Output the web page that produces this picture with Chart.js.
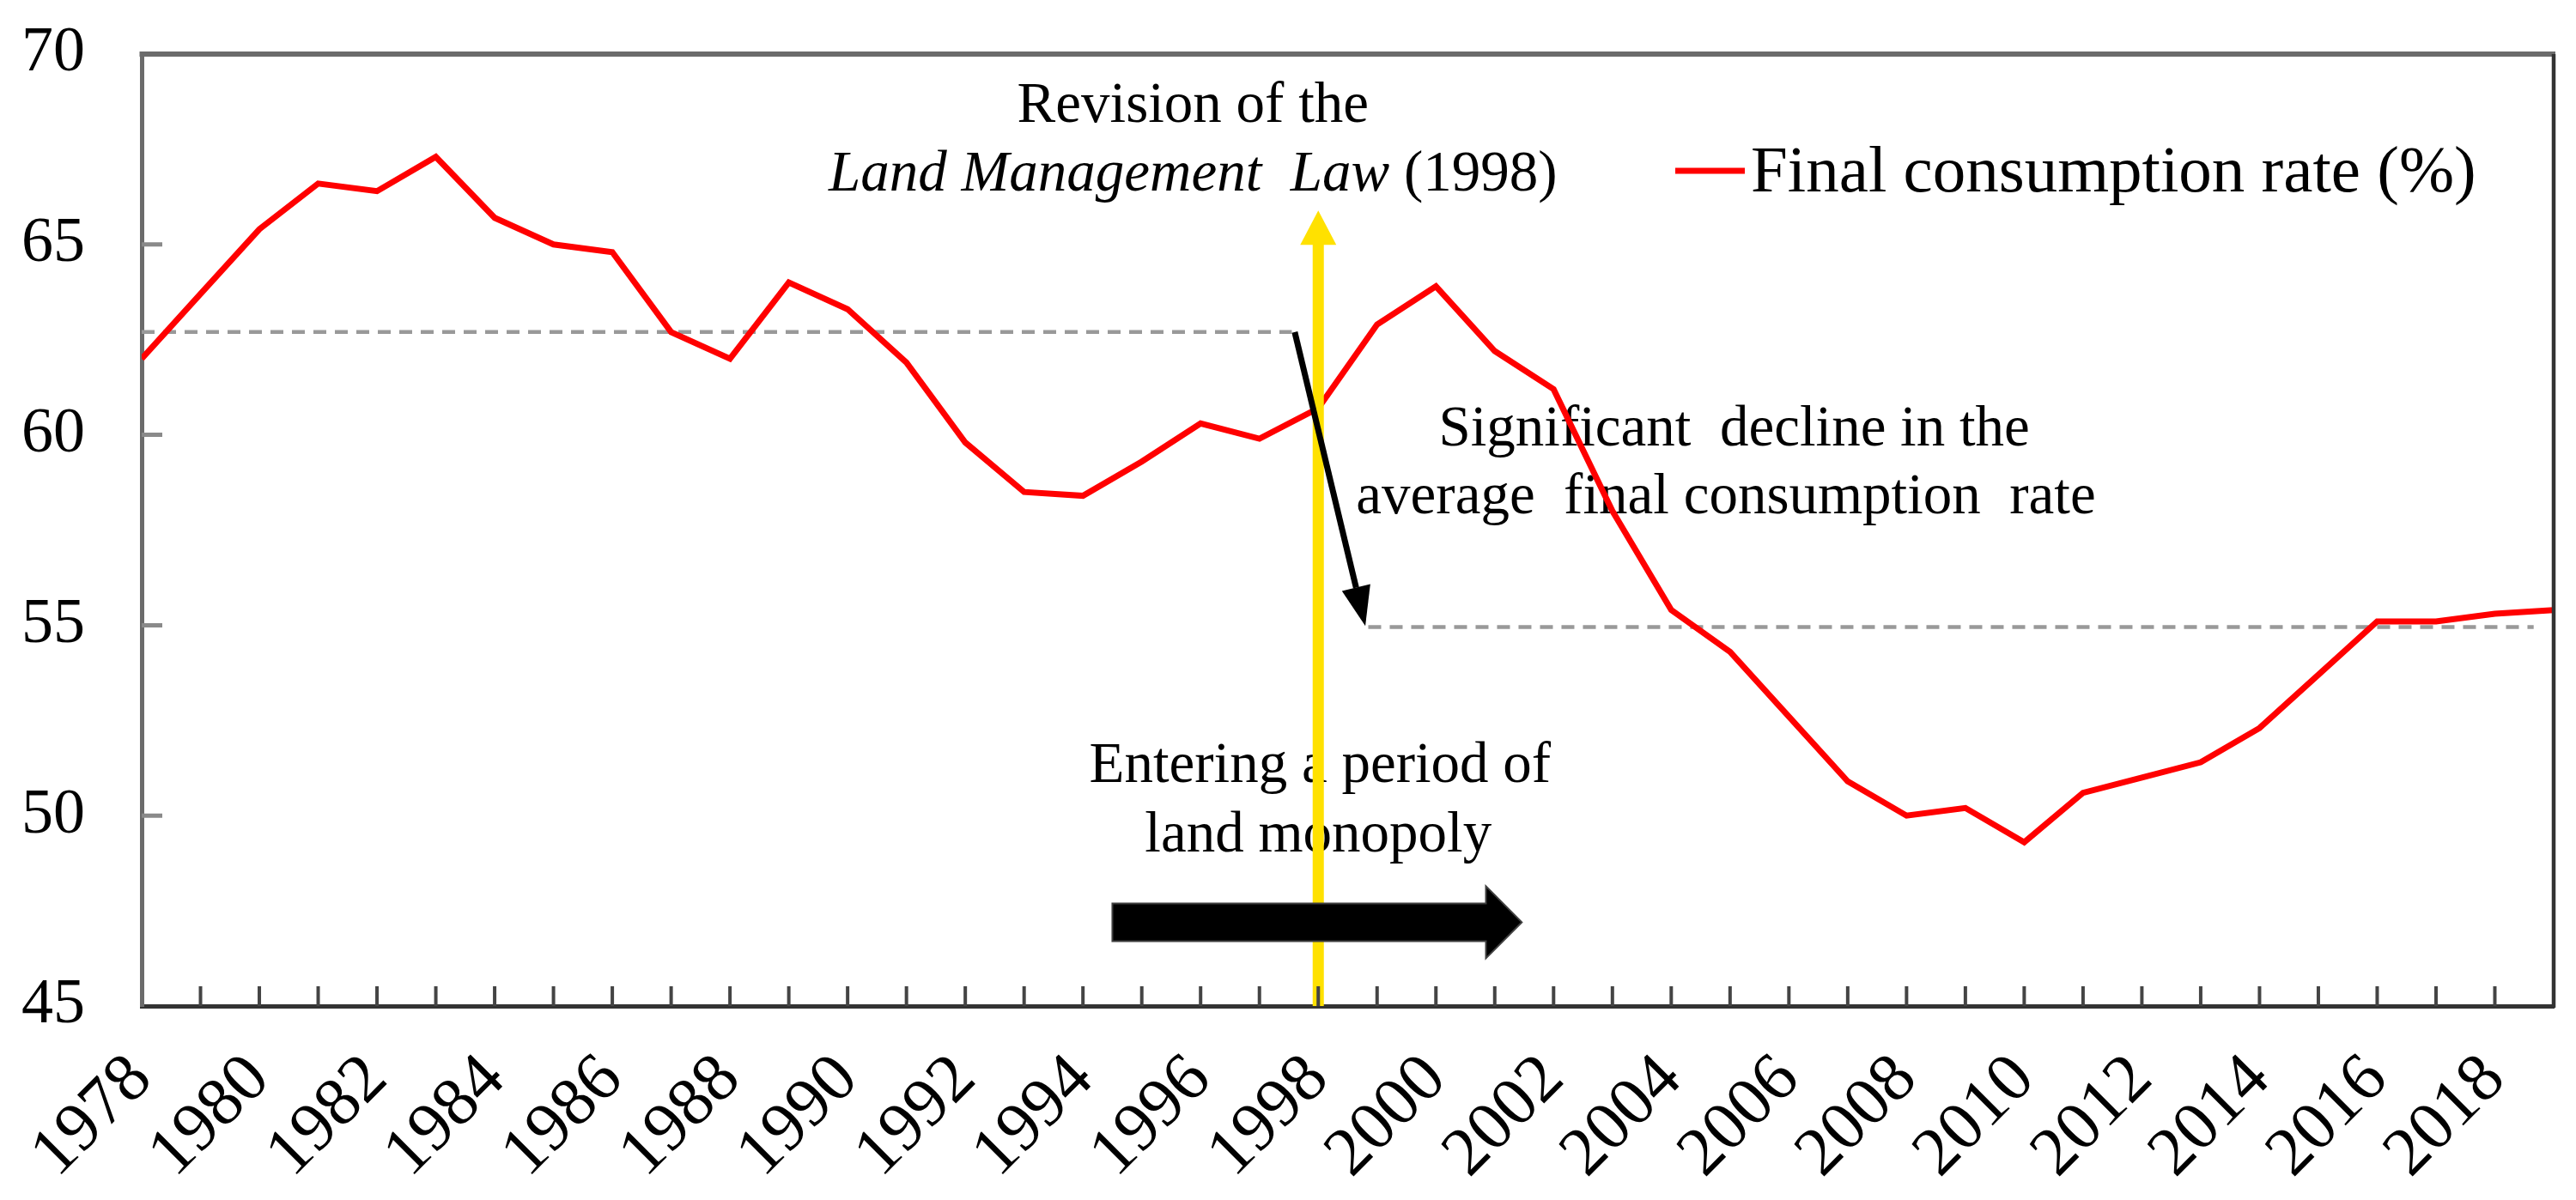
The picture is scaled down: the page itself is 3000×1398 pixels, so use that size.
<!DOCTYPE html>
<html>
<head>
<meta charset="utf-8">
<script src="https://cdn.jsdelivr.net/npm/chart.js@4"></script>
<style>
html,body{margin:0;padding:0;background:#fff;}
canvas{display:block;}
</style>
</head>
<body>
<canvas id="c" width="3000" height="1398" style="width:3000px;height:1398px"></canvas>
<script>
const years = [1978,1979,1980,1981,1982,1983,1984,1985,1986,1987,1988,1989,1990,1991,1992,1993,1994,1995,1996,1997,1998,1999,2000,2001,2002,2003,2004,2005,2006,2007,2008,2009,2010,2011,2012,2013,2014,2015,2016,2017,2018,2019];
const consumptionRate = [62.0,63.7,65.4,66.6,66.4,67.3,65.7,65.0,64.8,62.7,62.0,64.0,63.3,61.9,59.8,58.5,58.4,59.3,60.3,59.9,60.7,62.9,63.9,62.2,61.2,58.0,55.4,54.3,52.6,50.9,50.0,50.2,49.3,50.6,51.0,51.4,52.3,53.7,55.1,55.1,55.3,55.4];
const yTicks = [45,50,55,60,65,70];
const avgBefore = 62.7;   // average before 1998
const avgAfter = 54.95;   // average after 1998
const seriesLabel = 'Final consumption rate (%)';

const FONT = "'Liberation Serif','Times New Roman',serif";

const overlay = {
  id: 'overlay',
  beforeDatasetsDraw(chart) {
    const {ctx, scales:{x, y}} = chart;
    ctx.save();
    // dashed average lines
    ctx.strokeStyle = '#999999';
    ctx.lineWidth = 4.5;
    ctx.setLineDash([15, 10]);
    ctx.beginPath();
    ctx.moveTo(x.getPixelForValue(1978), y.getPixelForValue(avgBefore));
    ctx.lineTo(x.getPixelForValue(1997.55), y.getPixelForValue(avgBefore));
    ctx.moveTo(x.getPixelForValue(1998.85), y.getPixelForValue(avgAfter));
    ctx.lineTo(x.getPixelForValue(2018.66), y.getPixelForValue(avgAfter));
    ctx.stroke();
    ctx.setLineDash([]);

    // texts
    ctx.fillStyle = '#000';
    ctx.textBaseline = 'alphabetic';
    ctx.textAlign = 'center';
    const f = 67;
    ctx.font = f + 'px ' + FONT;
    ctx.fillText('Revision of the', x.getPixelForValue(1995.87), y.getPixelForValue(68.23));
    // mixed italic line
    const cx = x.getPixelForValue(1995.87), by = y.getPixelForValue(66.41);
    ctx.font = 'italic ' + f + 'px ' + FONT;
    const t1 = 'Land Management  Law';
    const w1 = ctx.measureText(t1).width;
    ctx.font = f + 'px ' + FONT;
    const t2 = ' (1998)';
    const w2 = ctx.measureText(t2).width;
    const sx = cx - (w1 + w2) / 2;
    ctx.textAlign = 'left';
    ctx.font = 'italic ' + f + 'px ' + FONT;
    ctx.fillText(t1, sx, by);
    ctx.font = f + 'px ' + FONT;
    ctx.fillText(t2, sx + w1, by);

    ctx.textAlign = 'center';
    ctx.fillText('Significant  decline in the', x.getPixelForValue(2005.07), y.getPixelForValue(59.73));
    ctx.fillText('average  final consumption  rate', x.getPixelForValue(2004.93), y.getPixelForValue(57.93));
    ctx.fillText('Entering a period of', x.getPixelForValue(1998.03), y.getPixelForValue(50.88));
    ctx.fillText('land monopoly', x.getPixelForValue(1998.0), y.getPixelForValue(49.06));

    // legend
    const lx = chart.chartArea.right - 1023, ly = chart.chartArea.top + 136;
    ctx.strokeStyle = '#ff0000';
    ctx.lineWidth = 7;
    ctx.beginPath();
    ctx.moveTo(lx, ly);
    ctx.lineTo(lx + 81, ly);
    ctx.stroke();
    ctx.font = '77px ' + FONT;
    ctx.textAlign = 'left';
    ctx.fillText(seriesLabel, lx + 88, ly + 24);
    ctx.restore();
  },
  afterDatasetsDraw(chart) {
    const {ctx, chartArea:{left, right, top, bottom}, scales:{x, y}} = chart;
    ctx.save();
    // yellow arrow
    const yx = x.getPixelForValue(1998);
    const tipY = y.getPixelForValue(65.89);
    ctx.strokeStyle = '#FFE100';
    ctx.fillStyle = '#FFE100';
    ctx.lineWidth = 13;
    ctx.beginPath();
    ctx.moveTo(yx, bottom);
    ctx.lineTo(yx, tipY + 36);
    ctx.stroke();
    ctx.beginPath();
    ctx.moveTo(yx, tipY);
    ctx.lineTo(yx - 21, tipY + 40);
    ctx.lineTo(yx + 21, tipY + 40);
    ctx.closePath();
    ctx.fill();

    // black slanted arrow
    const ax0 = x.getPixelForValue(1997.6), ay0 = y.getPixelForValue(avgBefore);
    const ax1 = x.getPixelForValue(1998.8), ay1 = y.getPixelForValue(54.98);
    const ang = Math.atan2(ay1 - ay0, ax1 - ax0);
    const hl = 46, hw = 17;
    const bx = ax1 - hl * Math.cos(ang), byy = ay1 - hl * Math.sin(ang);
    ctx.strokeStyle = '#000';
    ctx.fillStyle = '#000';
    ctx.lineWidth = 7;
    ctx.beginPath();
    ctx.moveTo(ax0, ay0);
    ctx.lineTo(bx, byy);
    ctx.stroke();
    ctx.beginPath();
    ctx.moveTo(ax1, ay1);
    ctx.lineTo(bx + hw * Math.sin(ang), byy - hw * Math.cos(ang));
    ctx.lineTo(bx - hw * Math.sin(ang), byy + hw * Math.cos(ang));
    ctx.closePath();
    ctx.fill();

    // thick block arrow
    const bx0 = x.getPixelForValue(1994.5), bhx = x.getPixelForValue(2000.85), btx = x.getPixelForValue(2001.46);
    const bcy = y.getPixelForValue(47.2);
    ctx.beginPath();
    ctx.moveTo(bx0, bcy - 22);
    ctx.lineTo(bhx, bcy - 22);
    ctx.lineTo(bhx, bcy - 42);
    ctx.lineTo(btx, bcy);
    ctx.lineTo(bhx, bcy + 42);
    ctx.lineTo(bhx, bcy + 22);
    ctx.lineTo(bx0, bcy + 22);
    ctx.closePath();
    ctx.fillStyle = '#000';
    ctx.fill();
    ctx.strokeStyle = '#404040';
    ctx.lineWidth = 2;
    ctx.stroke();
    ctx.restore();
  },
  afterDraw(chart) {
    const {ctx, chartArea:{left, right, top, bottom}, scales:{x, y}} = chart;
    ctx.save();
    // top border
    ctx.strokeStyle = '#6b6b6b';
    ctx.lineWidth = 6;
    ctx.beginPath();
    ctx.moveTo(left - 2.5, top);
    ctx.lineTo(right + 2, top);
    ctx.stroke();
    // right border
    ctx.strokeStyle = '#333';
    ctx.lineWidth = 4.5;
    ctx.beginPath();
    ctx.moveTo(right, top);
    ctx.lineTo(right, bottom + 2);
    ctx.stroke();
    // inward x tick marks
    ctx.strokeStyle = '#444';
    ctx.lineWidth = 4;
    ctx.beginPath();
    years.slice(1, -1).forEach(yr => {
      const px = x.getPixelForValue(yr);
      ctx.moveTo(px, bottom);
      ctx.lineTo(px, bottom - 23);
    });
    ctx.stroke();
    // inward y tick marks
    ctx.strokeStyle = '#8a8a8a';
    ctx.lineWidth = 5;
    ctx.beginPath();
    yTicks.slice(1, -1).forEach(v => {
      const py = y.getPixelForValue(v);
      ctx.moveTo(left, py);
      ctx.lineTo(left + 24, py);
    });
    ctx.stroke();
    ctx.restore();
  }
};

new Chart(document.getElementById('c'), {
  type: 'line',
  data: {
    datasets: [{
      label: seriesLabel,
      data: years.map((yr, i) => ({x: yr, y: consumptionRate[i]})),
      borderColor: '#ff0000',
      borderWidth: 7,
      pointRadius: 0,
      tension: 0,
      fill: false
    }]
  },
  options: {
    responsive: false,
    devicePixelRatio: 1,
    animation: false,
    layout: {padding: {top: 63, right: 26, left: 0, bottom: 0}},
    plugins: {legend: {display: false}, tooltip: {enabled: false}},
    scales: {
      x: {
        type: 'linear',
        min: 1978,
        max: 2019,
        afterFit(s) { s.height = 226; s.paddingLeft = 0; s.paddingRight = 0; },
        afterBuildTicks(s) { s.ticks = years.map(v => ({value: v})); },
        grid: {display: false, drawTicks: false},
        border: {display: true, color: '#333', width: 5},
        ticks: {
          autoSkip: false,
          minRotation: 45,
          maxRotation: 45,
          padding: 39,
          color: '#000',
          font: {family: FONT, size: 80},
          callback: (v) => (v % 2 === 0 ? String(v) : '')
        }
      },
      y: {
        min: 45,
        max: 70,
        afterFit(s) { s.width = 165; s.paddingTop = 0; s.paddingBottom = 0; },
        afterBuildTicks(s) { s.ticks = yTicks.map(v => ({value: v})); },
        grid: {display: false, drawTicks: false},
        border: {display: true, color: '#6b6b6b', width: 5},
        ticks: {
          padding: 66,
          color: '#000',
          font: {family: FONT, size: 74}
        }
      }
    }
  },
  plugins: [overlay]
});
</script>
</body>
</html>
